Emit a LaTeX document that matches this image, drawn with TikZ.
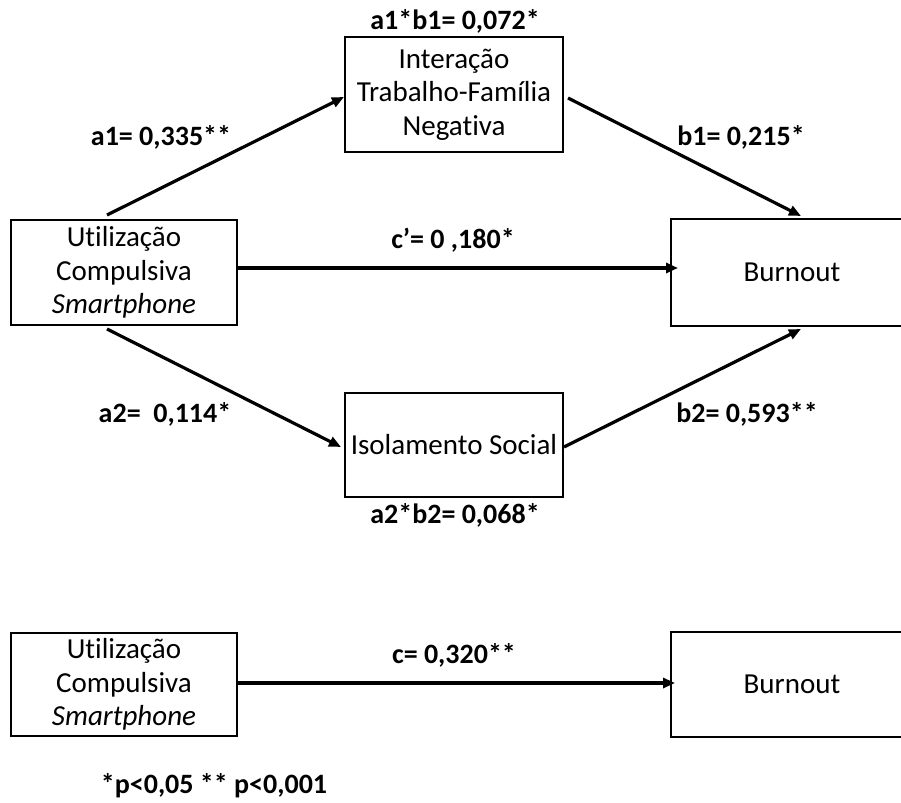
\documentclass[tikz,border=0pt]{standalone}
\usepackage{fontspec}
\setmainfont{Carlito}[Ligatures=CommonOff]
\usetikzlibrary{arrows.meta}

\begin{document}
\begin{tikzpicture}[x=0.5pt, y=-0.5pt,
  box/.style={draw, line width=1pt, align=center, inner sep=0pt, font=\fontsize{14.5}{16.8}\selectfont},
  endbox/.style={box, draw=none, anchor=west, minimum width=140pt},
  rim/.style={line width=1pt},
  coef/.style={anchor=base, inner sep=0pt, font=\bfseries\fontsize{14}{16.8}\selectfont},
  path/.style={line width=1.6pt, -{Triangle[length=6pt, width=5pt]}}]
 \useasboundingbox (0,0) rectangle (901,803);

 \node[box, minimum width=113pt, minimum height=52.5pt] (U) at (124,272.5) {Utilização\\Compulsiva\\\textit{Smartphone}};
 \node[box, minimum width=109pt, minimum height=57.5pt] (I) at (454,94.5) {Interação\\Trabalho-Família\\Negativa};
 \node[endbox, minimum height=52.5pt] (B) at (671,272.5) {\makebox[120pt]{Burnout}\hspace{20pt}};
 \node[box, minimum width=109pt, minimum height=52pt] (S) at (454,445) {Isolamento Social};

 \node[box, minimum width=113pt, minimum height=51.5pt] (U2) at (124,684.5) {Utilização\\Compulsiva\\\textit{Smartphone}};
 \node[endbox, minimum height=51.5pt] (B2) at (671,684.5) {\makebox[120pt]{Burnout}\hspace{20pt}};

 % Burnout boxes run past the right edge
 \draw[rim] (B.north east) -- (B.north west) -- (B.south west) -- (B.south east);
 \draw[rim] (B2.north east) -- (B2.north west) -- (B2.south west) -- (B2.south east);

 \draw[path] ([xshift=-8.5pt, yshift=2pt]U.north) -- ([yshift=-1.25pt]I.west);
 \draw[path] ([xshift=2pt, yshift=-1.75pt]I.east) -- ([xshift=-5.5pt, yshift=1.5pt]B.north);
 \draw[path] ([yshift=2.25pt]U.east) -- ([xshift=3.5pt, yshift=2.25pt]B.west);
 \draw[path] ([xshift=-8.5pt, yshift=-1.5pt]U.south) -- ([xshift=-1.5pt, yshift=-1pt]S.west);
 \draw[path] ([yshift=-1pt]S.east) -- ([xshift=-5.5pt, yshift=-1.5pt]B.south);
 \draw[path] ([yshift=0.75pt]U2.east) -- ([xshift=2pt, yshift=0.75pt]B2.west);

 \node[coef] (ab1) at (455,30) {a1*b1= 0,072*};
 \node[coef] (a1) at (161,145) {a1= 0,335**};
 \node[coef] (b1) at (741,145) {b1= 0,215*};
 \node[coef] (cp) at (453,248) {c'= 0 ,180*};
 \node[coef] (a2) at (165,422) {a2=\ \ 0,114*};
 \node[coef] (b2) at (747,422) {b2= 0,593**};
 \node[coef] (ab2) at (455,523) {a2*b2= 0,068*};
 \node[coef] (c) at (454,663) {c= 0,320**};
 \node[coef] (note) at (214,793) {*p<0,05 ** p<0,001};
\end{tikzpicture}
\end{document}
